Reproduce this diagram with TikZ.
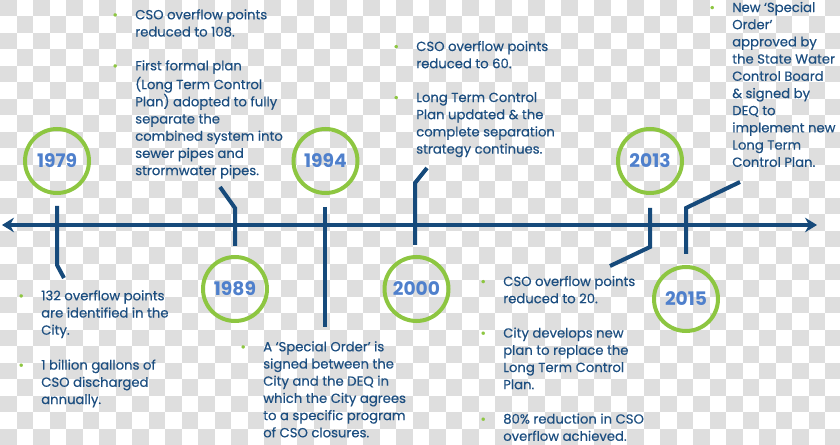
\documentclass[tikz,border=0pt]{standalone}
\usepackage{fontspec}
\setmainfont{Poppins}
\usetikzlibrary{arrows.meta}
\definecolor{txtblue}{HTML}{1C4E80}
\definecolor{axisblue}{HTML}{164A7B}
\definecolor{yearblue}{HTML}{4F80CC}
\definecolor{cgreen}{HTML}{8DC641}
\definecolor{chkgrey}{HTML}{DEDEDE}
\newcommand\bul{\makebox[0pt][r]{\textcolor{cgreen}{\textbullet}\hspace{13pt}}}
\tikzset{
  para/.style={anchor=north west, inner sep=0pt, align=left, text=txtblue,
    font=\fontsize{9.9}{12.9}\selectfont\addfontfeatures{FakeBold=0.4}},
  yearc/.style={circle, draw=cgreen, line width=3pt, minimum size=48pt,
    inner sep=0pt, text=yearblue, font=\fontsize{14}{16}\selectfont\bfseries},
  tickline/.style={draw=axisblue, line width=3pt},
  axisline/.style={draw=axisblue, line width=3pt,
    {Stealth[length=9pt,width=11pt,inset=3pt]}-{Stealth[length=9pt,width=11pt,inset=3pt]}},
}
\begin{document}
\begin{tikzpicture}[x=0.75pt,y=-0.75pt]
\useasboundingbox (0,0) rectangle (840,445);
% checkerboard background
\fill[white] (0,0) rectangle (840,445);
\foreach \i in {0,...,50}{
  \foreach \j in {0,...,26}{
    \pgfmathtruncatemacro\s{\i+\j}
    \ifodd\s\else
      \fill[chkgrey] (\i*16.5,\j*16.5) rectangle ++(16.5,16.5);
    \fi
  }
}
% axis
\coordinate (axL) at (2,225);
\coordinate (axR) at (817,225);
\draw[axisline] (axL) -- (axR);

% year circles
\node[yearc] (c1979) at (57,161) {1979};
\node[yearc] (c1989) at (235,289) {1989};
\node[yearc] (c1994) at (325.5,161) {1994};
\node[yearc] (c2000) at (416.5,289) {2000};
\node[yearc] (c2013) at (650,161) {2013};
\node[yearc] (c2015) at (686,299) {2015};

% tick connectors
\coordinate (k79a) at (57,206);  \coordinate (k79b) at (57,265);  \coordinate (k79c) at (64,278);
\coordinate (k89a) at (220,187); \coordinate (k89b) at (235,208); \coordinate (k89c) at (235,246);
\coordinate (k94a) at (324.5,207); \coordinate (k94b) at (324.5,327);
\coordinate (k00a) at (415,245); \coordinate (k00b) at (415,183); \coordinate (k00c) at (427,168);
\coordinate (k13a) at (650,208); \coordinate (k13b) at (650,247); \coordinate (k13c) at (610,266);
\coordinate (k15a) at (686,254); \coordinate (k15b) at (686,208); \coordinate (k15c) at (740,182);
\draw[tickline] (k79a) -- (k79b) -- (k79c);
\draw[tickline] (k89a) -- (k89b) -- (k89c);
\draw[tickline] (k94a) -- (k94b);
\draw[tickline] (k00a) -- (k00b) -- (k00c);
\draw[tickline] (k13a) -- (k13b) -- (k13c);
\draw[tickline] (k15a) -- (k15b) -- (k15c);

% texts
\node[para] (a1) at (135,7) {\bul\strut CSO overflow points\\reduced to 108.};
\node[para] (a2) at (135,58) {\bul\strut First formal plan\\(Long Term Control\\Plan) adopted to fully\\separate the\\combined system into\\sewer pipes and\\strormwater pipes.};
\node[para] (b1) at (416,38.7) {\bul\strut CSO overflow points\\reduced to 60.};
\node[para] (b2) at (416,89.7) {\bul\strut Long Term Control\\Plan updated \& the\\complete separation\\strategy continues.};
\node[para] (t1) at (732,-0.3) {\bul\strut New ‘Special\\Order’\\approved by\\the State Water\\Control Board\\\& signed by\\DEQ to\\implement new\\Long Term\\Control Plan.};
\node[para] (d1) at (41,288) {\bul\strut 132 overflow points\\are identified in the\\City.};
\node[para] (d2) at (41,357.3) {\bul\strut 1 billion gallons of\\CSO discharged\\annually.};
\node[para] (e1) at (263,339) {\bul\strut A ‘Special Order’ is\\signed between the\\City and the DEQ in\\which the City agrees\\to a specific program\\of CSO closures.};
\node[para] (f1) at (503,273.7) {\bul\strut CSO overflow points\\reduced to 20.};
\node[para] (f2) at (503,325.3) {\bul\strut City develops new\\plan to replace the\\Long Term Control\\Plan.};
\node[para] (f3) at (503,411.3) {\bul\strut 80\% reduction in CSO\\overflow achieved.};
\end{tikzpicture}
\end{document}
